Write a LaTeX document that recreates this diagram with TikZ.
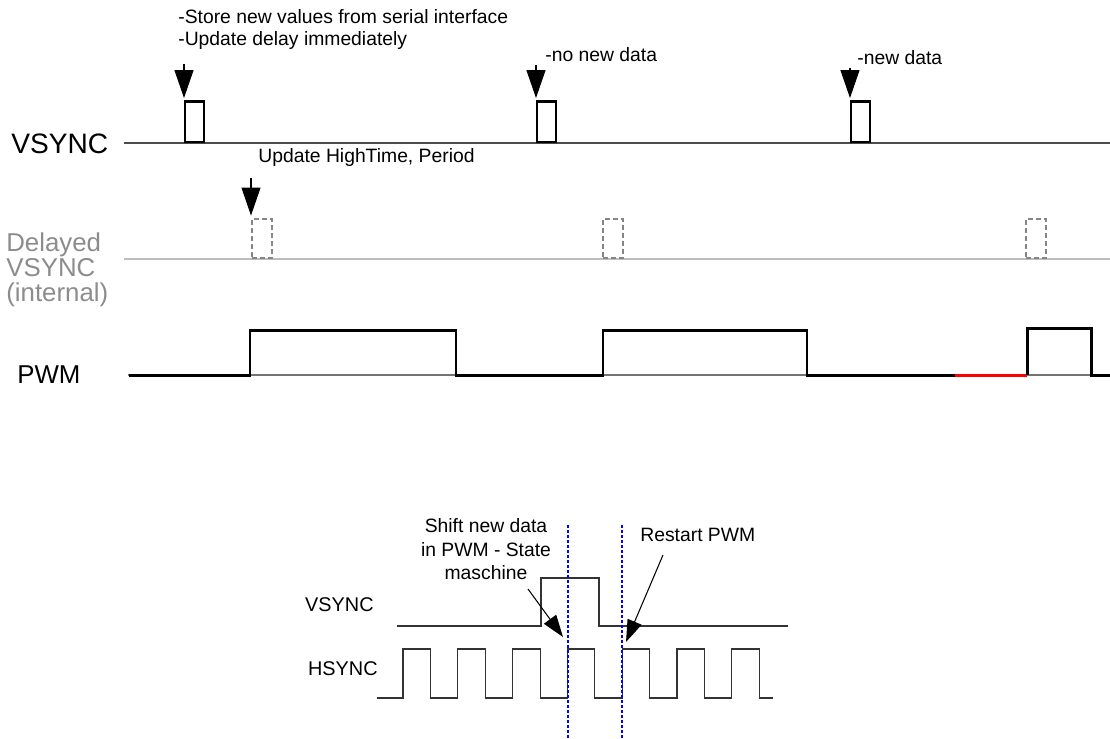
\documentclass[tikz,border=0pt]{standalone}
\usepackage{fontspec}
\setmainfont{Liberation Sans}
\usetikzlibrary{arrows.meta}
\definecolor{dimtxt}{HTML}{8C8C8C}
\definecolor{dimbox}{HTML}{858585}
\definecolor{dimline}{HTML}{BDBDBD}

\begin{document}
\begin{tikzpicture}[x=0.02cm, y=-0.02cm,
  big/.style={font=\fontsize{14.7}{14.2}\selectfont, align=left, inner sep=0pt},
  ann/.style={font=\fontsize{11}{12.4}\selectfont, align=left, inner sep=0pt},
  sml/.style={font=\fontsize{11.3}{13}\selectfont, inner sep=0pt, anchor=east},
  pls/.style={draw=black, line width=1.4pt, inner sep=0pt, minimum width=0.38cm, minimum height=0.81cm, anchor=south west},
  dpl/.style={draw=dimbox, line width=1.4pt, dash pattern=on 0.1cm off 0.06cm, inner sep=0pt, minimum width=0.4cm, minimum height=0.78cm, anchor=south west},
  arr/.style={-{Triangle[length=0.56cm, width=0.38cm]}, line width=0.6pt, shorten >=0.04cm},
  sarr/.style={-{Triangle[length=0.44cm, width=0.3cm]}, line width=0.6pt},
  pwm/.style={line width=1.7pt},
  sig/.style={line width=0.6pt, draw=black!80}]
\useasboundingbox (0,0) rectangle (1110,738);

%% ── VSYNC ─────────────────────────────────────────────
\node[big, anchor=west, font=\fontsize{16}{16}\selectfont] (lvs) at (11,144) {VSYNC};
\draw[line width=0.6pt, black!70] (124,143) -- (1110,143);
\node[pls] (v1) at (184,143) {};
\node[pls] (v2) at (536,143) {};
\node[pls] (v3) at (850,143) {};

\node[ann, anchor=north west] (store) at (178,9)
  {-Store new values from serial interface\\-Update delay immediately};
\node[ann, anchor=west] (nonew) at (545,55) {-no new data};
\node[ann, anchor=west] (new) at (857,58) {-new data};
\draw[arr] (v1.north west |- 0,64) -- (v1.north west);
\draw[arr] (v2.north west |- 0,65) -- (v2.north west);
\draw[arr] (v3.north west |- 0,68) -- (v3.north west);

%% ── delayed VSYNC ─────────────────────────────────────
\node[big, anchor=west, text=dimtxt] (ldv) at (6,270) {Delayed\\VSYNC\\(internal)};
\draw[line width=0.9pt, dimline] (124,259) -- (1110,259);
\node[dpl] (d1) at (251,259) {};
\node[dpl] (d2) at (602,259) {};
\node[dpl] (d3) at (1025,259) {};
\node[ann, anchor=west] (upd) at (258,157) {Update HighTime, Period};
\draw[arr] (d1.north west |- 0,178) -- (d1.north west);

%% ── PWM ───────────────────────────────────────────────
\node[big, anchor=west] (lpwm) at (17,375) {PWM};
\draw[line width=0.6pt, black!55] (128,375) -- (1110,375);
\draw[pwm] (129,375) -- (250,375) -- (250,330) -- (456,330) -- (456,375)
  -- (603,375) -- (603,330) -- (807,330) -- (807,375) -- (955,375);
\draw[pwm, red] (955,375) -- (1027,375);
\draw[pwm] (1027,375) -- (1027,328) -- (1091,328) -- (1091,375) -- (1110,375);

%% ── detail: VSYNC vs HSYNC ────────────────────────────
\node[sml] (lvs2) at (374,605) {VSYNC};
\node[sml] (lhs) at (378,669) {HSYNC};
\draw[sig] (397,626) -- (541,626) -- (541,578) -- (599,578) -- (599,626) -- (788,626);
\draw[sig] (377,698) foreach \k in {0,...,6}
  { -- ({403+54.8*\k},698) -- ({403+54.8*\k},649) -- ({430.5+54.8*\k},649) -- ({430.5+54.8*\k},698) }
  -- (773,698);
\draw[blue, line width=0.7pt, dash pattern=on 0.06cm off 0.04cm] (568,525) -- (568,738);
\draw[blue, line width=0.7pt, dash pattern=on 0.06cm off 0.04cm] (622,525) -- (622,738);

\node[ann, align=center, anchor=north, font=\fontsize{11}{13.5}\selectfont] (shift) at (486,518)
  {Shift new data\\in PWM - State\\maschine};
\node[ann, anchor=west] (rst) at (640,535) {Restart PWM};
\coordinate (sh0) at (528,589);
\coordinate (sh1) at (563,637);
\coordinate (rs0) at (663,555);
\coordinate (rs1) at (626,642);
\draw[sarr] (sh0) -- (sh1);
\draw[sarr] (rs0) -- (rs1);
\end{tikzpicture}
\end{document}
